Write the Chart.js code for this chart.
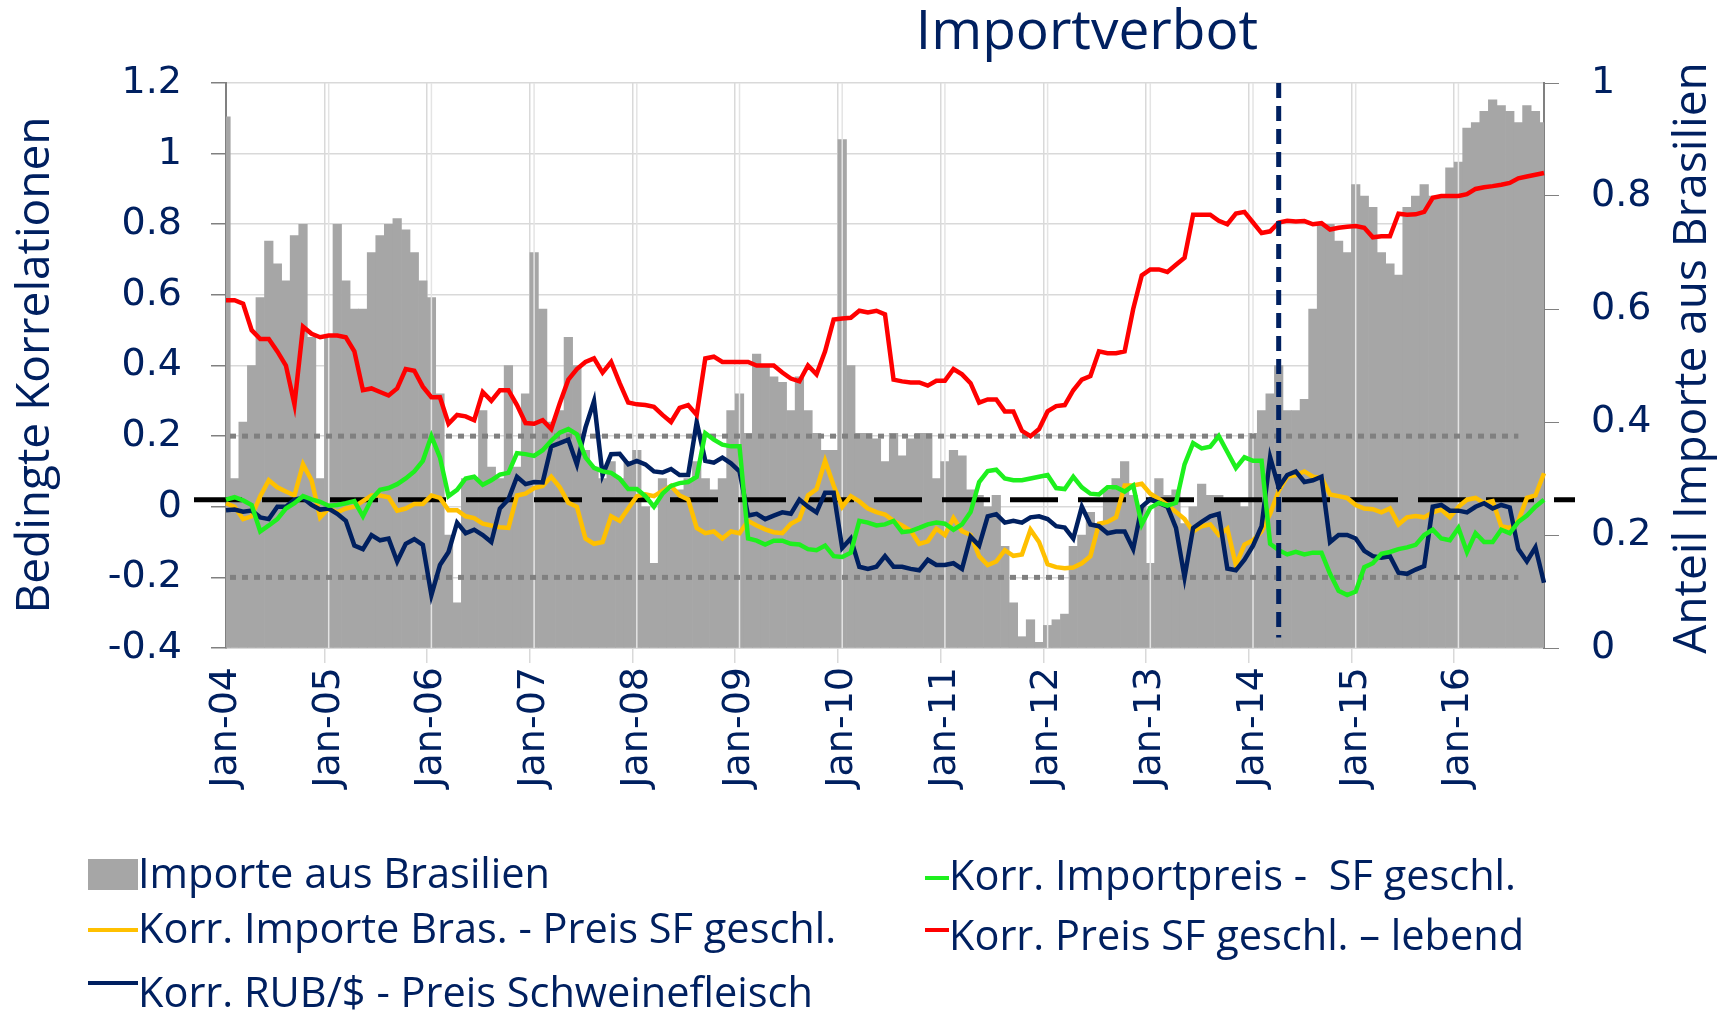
<!DOCTYPE html>
<html>
<head>
<meta charset="utf-8">
<title>Importverbot</title>
<script src="https://cdn.jsdelivr.net/npm/chart.js@4.4.1/dist/chart.umd.min.js"></script>
<style>
    html, body { margin: 0; padding: 0; background: #fff; }
    #wrap { width: 1727px; height: 1017px; }
</style>
</head>
<body>
<div id="wrap"><canvas id="myChart" width="1727" height="1017"></canvas></div>
<script>
/* monthly categories Jan-04 .. Nov-16 */
const monthNames = ['Jan', 'Feb', 'Mar', 'Apr', 'May', 'Jun', 'Jul', 'Aug', 'Sep', 'Oct', 'Nov', 'Dec'];
const months = [];
for (let yr = 2004; yr <= 2016; yr++) {
    for (let m = 0; m < 12; m++) {
        if (yr === 2016 && m > 10) break;
        months.push(monthNames[m] + '-' + String(yr).slice(2));
    }
}

// Anteil Importe aus Brasilien (rechte Achse)
const importeBrasilien = [
    0.94, 0.3, 0.4, 0.5, 0.62, 0.72, 0.68, 0.65, 0.73, 0.75, 0.55, 0.3,
    0.55, 0.75, 0.65, 0.6, 0.6, 0.7, 0.73, 0.75, 0.76, 0.74, 0.7, 0.65,
    0.62, 0.45, 0.2, 0.08, 0.3, 0.3, 0.42, 0.32, 0.3, 0.5, 0.32, 0.45,
    0.7, 0.6, 0.4, 0.42, 0.55, 0.5, 0.35, 0.32, 0.3, 0.33, 0.3, 0.33,
    0.35, 0.25, 0.15, 0.3, 0.28, 0.28, 0.3, 0.33, 0.3, 0.28, 0.3, 0.42,
    0.45, 0.38, 0.52, 0.5, 0.48, 0.47, 0.42, 0.48, 0.42, 0.38, 0.35, 0.35,
    0.9, 0.5, 0.38, 0.38, 0.37, 0.33, 0.38, 0.34, 0.37, 0.38, 0.38, 0.3,
    0.33, 0.35, 0.34, 0.28, 0.27, 0.25, 0.27, 0.18, 0.08, 0.02, 0.05, 0.01,
    0.04, 0.05, 0.06, 0.18, 0.2, 0.24, 0.22, 0.28, 0.3, 0.33, 0.27, 0.25,
    0.15, 0.3, 0.27, 0.28, 0.22, 0.25, 0.29, 0.27, 0.27, 0.26, 0.26, 0.25,
    0.38, 0.42, 0.45, 0.5, 0.42, 0.42, 0.44, 0.6, 0.75, 0.75, 0.72, 0.7,
    0.82, 0.8, 0.78, 0.7, 0.68, 0.66, 0.78, 0.8, 0.82, 0.8, 0.8, 0.85,
    0.86, 0.92, 0.93, 0.95, 0.97, 0.96, 0.95, 0.93, 0.96, 0.95, 0.93
];

// Korr. Importe Bras. - Preis SF geschl.
const korrImporteBras = [
    0.01, 0.0, -0.035, -0.027, 0.03, 0.075, 0.055, 0.043, 0.032, 0.12, 0.075, -0.03,
    -0.005, -0.016, -0.005, 0.0, 0.016, 0.032, 0.032, 0.027, -0.011, -0.005, 0.008, 0.008,
    0.032, 0.025, -0.01, -0.01, -0.027, -0.032, -0.048, -0.053, -0.058, -0.06, 0.032, 0.037,
    0.053, 0.059, 0.085, 0.055, 0.011, 0.0, -0.09, -0.105, -0.1, -0.027, -0.04, -0.005,
    0.03, 0.035, 0.03, 0.045, 0.059, 0.032, 0.021, -0.06, -0.075, -0.07, -0.09, -0.07,
    -0.075, -0.04, -0.053, -0.064, -0.072, -0.075, -0.048, -0.035, 0.032, 0.05, 0.13, 0.06,
    0.0, 0.03, 0.015, -0.005, -0.015, -0.022, -0.04, -0.053, -0.068, -0.105, -0.098, -0.062,
    -0.08, -0.032, -0.069, -0.08, -0.14, -0.165, -0.155, -0.123, -0.139, -0.135, -0.065, -0.1,
    -0.163, -0.171, -0.174, -0.172, -0.16, -0.14, -0.048, -0.043, -0.03, 0.06, 0.06, 0.065,
    0.037, 0.022, 0.005, -0.015, -0.035, -0.07, -0.055, -0.05, -0.08, -0.062, -0.165, -0.107,
    -0.095, -0.07, -0.02, 0.045, 0.085, 0.09, 0.1, 0.085, 0.082, 0.035, 0.03, 0.025,
    0.005, -0.005, -0.007, -0.016, -0.005, -0.05, -0.03, -0.026, -0.03, -0.016, -0.008, -0.03,
    0.0, 0.02, 0.025, 0.011, 0.016, -0.055, -0.06, -0.04, 0.025, 0.032, 0.095
];

// Korr. RUB/$ - Preis Schweinefleisch
const korrRubPreis = [
    -0.01, -0.008, -0.014, -0.011, -0.03, -0.035, 0.0, 0.0, 0.02, 0.025, 0.005, -0.008,
    -0.005, -0.02, -0.04, -0.11, -0.12, -0.08, -0.095, -0.09, -0.155, -0.105, -0.092, -0.108,
    -0.25, -0.165, -0.128, -0.045, -0.075, -0.065, -0.08, -0.1, -0.005, 0.021, 0.085, 0.064,
    0.07, 0.069, 0.171, 0.18, 0.19, 0.12, 0.224, 0.299, 0.09, 0.149, 0.15, 0.12,
    0.13, 0.12, 0.1, 0.097, 0.107, 0.09, 0.09, 0.24, 0.13, 0.125, 0.139, 0.123,
    0.1, -0.025, -0.02, -0.035, -0.025, -0.016, -0.02, 0.02, 0.0, -0.016, 0.04, 0.04,
    -0.117, -0.09, -0.17, -0.176, -0.17, -0.14, -0.17, -0.17, -0.176, -0.18, -0.15, -0.165,
    -0.165, -0.16, -0.176, -0.085, -0.11, -0.027, -0.021, -0.045, -0.04, -0.045, -0.03, -0.027,
    -0.035, -0.055, -0.059, -0.09, 0.0, -0.05, -0.055, -0.075, -0.07, -0.07, -0.12, 0.0,
    0.021, 0.011, 0.0, -0.06, -0.2, -0.06, -0.043, -0.027, -0.02, -0.175, -0.18, -0.15,
    -0.11, -0.055, 0.14, 0.055, 0.09, 0.10, 0.07, 0.075, 0.085, -0.1, -0.08, -0.08,
    -0.09, -0.125, -0.14, -0.144, -0.14, -0.187, -0.19, -0.178, -0.168, 0.0, 0.005, -0.011,
    -0.011, -0.016, 0.0, 0.01, -0.005, 0.005, -0.002, -0.12, -0.155, -0.115, -0.215
];

// Korr. Importpreis - SF geschl.
const korrImportpreis = [
    0.02, 0.027, 0.018, 0.005, -0.07, -0.053, -0.035, -0.005, 0.01, 0.03, 0.021, 0.014,
    0.003, 0.005, 0.01, 0.016, -0.027, 0.021, 0.048, 0.053, 0.064, 0.08, 0.1, 0.13,
    0.2, 0.14, 0.03, 0.048, 0.08, 0.085, 0.062, 0.075, 0.091, 0.096, 0.152, 0.149,
    0.144, 0.16, 0.187, 0.21, 0.22, 0.205, 0.14, 0.11, 0.1, 0.096, 0.08, 0.05,
    0.05, 0.03, 0.0, 0.037, 0.059, 0.067, 0.07, 0.085, 0.208, 0.19, 0.176, 0.171,
    0.171, -0.09, -0.096, -0.107, -0.096, -0.096, -0.105, -0.107, -0.12, -0.123, -0.11, -0.14,
    -0.142, -0.13, -0.04, -0.045, -0.053, -0.05, -0.04, -0.072, -0.069, -0.06, -0.05, -0.045,
    -0.048, -0.065, -0.05, -0.015, 0.07, 0.101, 0.105, 0.08, 0.075, 0.075, 0.08, 0.085,
    0.09, 0.053, 0.05, 0.085, 0.055, 0.037, 0.035, 0.055, 0.055, 0.043, 0.06, -0.05,
    -0.003, 0.011, 0.003, 0.011, 0.12, 0.18, 0.165, 0.17, 0.2, 0.155, 0.11, 0.14,
    0.13, 0.13, -0.105, -0.123, -0.135, -0.128, -0.135, -0.13, -0.13, -0.19, -0.238, -0.25,
    -0.24, -0.171, -0.16, -0.133, -0.128, -0.12, -0.115, -0.108, -0.08, -0.065, -0.09, -0.095,
    -0.06, -0.128, -0.075, -0.1, -0.1, -0.065, -0.075, -0.043, -0.025, 0.0, 0.02
];

// Korr. Preis SF geschl. – lebend
const korrPreisLebend = [
    0.585, 0.585, 0.575, 0.50, 0.475, 0.475, 0.44, 0.40, 0.29, 0.51, 0.49, 0.48,
    0.485, 0.485, 0.48, 0.44, 0.33, 0.335, 0.325, 0.315, 0.335, 0.39, 0.385, 0.34,
    0.31, 0.31, 0.235, 0.26, 0.256, 0.245, 0.325, 0.30, 0.33, 0.33, 0.288, 0.237,
    0.235, 0.245, 0.22, 0.293, 0.36, 0.39, 0.41, 0.42, 0.38, 0.41, 0.35, 0.295,
    0.29, 0.288, 0.283, 0.26, 0.24, 0.28, 0.288, 0.26, 0.42, 0.425, 0.41, 0.41,
    0.41, 0.41, 0.40, 0.40, 0.40, 0.38, 0.363, 0.355, 0.40, 0.375, 0.44, 0.53,
    0.533, 0.535, 0.555, 0.55, 0.555, 0.545, 0.36, 0.355, 0.352, 0.352, 0.343, 0.357,
    0.357, 0.39, 0.375, 0.35, 0.295, 0.304, 0.304, 0.27, 0.27, 0.215, 0.2, 0.22,
    0.27, 0.285, 0.288, 0.33, 0.36, 0.37, 0.44, 0.435, 0.435, 0.44, 0.56, 0.655,
    0.672, 0.672, 0.665, 0.685, 0.705, 0.827, 0.827, 0.827, 0.81, 0.80, 0.83, 0.835,
    0.805, 0.775, 0.78, 0.805, 0.81, 0.808, 0.809, 0.80, 0.803, 0.785, 0.79, 0.793,
    0.795, 0.79, 0.763, 0.766, 0.766, 0.83, 0.827, 0.828, 0.835, 0.875, 0.88, 0.88,
    0.88, 0.885, 0.9, 0.905, 0.908, 0.912, 0.917, 0.93, 0.935, 0.94, 0.945
];

// Hilfslinien
const nullLinie = 0.02;
const bandGrenzen = [0.2, -0.2];
const bandEnde = 'Aug-16';
const verbotMonat = 'Apr-14';
const verbotUnten = -0.37;

const navy = '#002060';
const tickFont = { family: 'DejaVu Sans', size: 38 };
const fmtTick = v => String(+Number(v).toFixed(1));

const extras = {
    id: 'extras',
    afterDatasetDraw(chart, args) {
        if (args.index !== 0) return;
        const { ctx, chartArea: a, scales: { x, y } } = chart;
        ctx.save();
        // Januar-Linien über den Balken
        ctx.strokeStyle = '#E4E4E4';
        ctx.lineWidth = 1.5;
        months.forEach((lab, i) => {
            if (i % 12 !== 0 || i === 0) return;
            const px = x.getPixelForValue(i);
            ctx.beginPath();
            ctx.moveTo(px, a.top);
            ctx.lineTo(px, a.bottom);
            ctx.stroke();
        });
        // gepunktete Bänder
        ctx.strokeStyle = '#808080';
        ctx.lineWidth = 5;
        ctx.setLineDash([6, 6]);
        const xEnd = x.getPixelForValue(months.indexOf(bandEnde));
        bandGrenzen.forEach(v => {
            const py = y.getPixelForValue(v);
            ctx.beginPath();
            ctx.moveTo(a.left + 4, py);
            ctx.lineTo(xEnd, py);
            ctx.stroke();
        });
        // schwarze gestrichelte Linie
        ctx.strokeStyle = '#000000';
        ctx.lineWidth = 5;
        ctx.setLineDash([48, 20]);
        const py0 = y.getPixelForValue(nullLinie);
        ctx.beginPath();
        ctx.moveTo(a.left - 32, py0);
        ctx.lineTo(a.right + 31, py0);
        ctx.stroke();
        ctx.restore();
    },
    afterDatasetsDraw(chart) {
        const { ctx, chartArea: a, scales: { x, y } } = chart;
        const px = x.getPixelForValue(months.indexOf(verbotMonat));
        ctx.save();
        ctx.strokeStyle = navy;
        ctx.lineWidth = 5;
        ctx.setLineDash([15, 8]);
        ctx.beginPath();
        ctx.moveTo(px, a.top);
        ctx.lineTo(px, y.getPixelForValue(verbotUnten));
        ctx.stroke();
        ctx.restore();
    },
    afterDraw(chart) {
        const ctx = chart.ctx;
        ctx.save();
        ctx.fillStyle = navy;

        // Titel
        ctx.font = '55px "Open Sans"';
        ctx.textAlign = 'center';
        ctx.textBaseline = 'middle';
        ctx.fillText('Importverbot', 1087, 33);

        // Achsentitel
        ctx.font = '46px "Open Sans"';
        [['Bedingte Korrelationen', 36, 365], ['Anteil Importe aus Brasilien', 1693, 358]].forEach(t => {
            ctx.save();
            ctx.translate(t[1], t[2]);
            ctx.rotate(-Math.PI / 2);
            ctx.fillText(t[0], 0, 0);
            ctx.restore();
        });

        // Legende
        ctx.font = '41.5px "Open Sans"';
        ctx.textAlign = 'left';
        ctx.textBaseline = 'alphabetic';
        ctx.fillStyle = '#A6A6A6';
        ctx.fillRect(88, 859, 50, 31);
        const items = [
            { text: 'Korr. Importe Bras. - Preis SF geschl.', color: '#FFC000', mx: 88, mw: 50, my: 930, tx: 138, ty: 943 },
            { text: 'Korr. RUB/$ - Preis Schweinefleisch', color: navy, mx: 88, mw: 50, my: 983, tx: 138, ty: 1007 },
            { text: 'Korr. Importpreis -  SF geschl.', color: '#1EF01E', mx: 925, mw: 24, my: 878, tx: 949, ty: 890 },
            { text: 'Korr. Preis SF geschl. – lebend', color: '#FF0000', mx: 925, mw: 24, my: 930, tx: 949, ty: 950 }
        ];
        ctx.fillStyle = navy;
        ctx.fillText('Importe aus Brasilien', 138, 888);
        items.forEach(it => {
            ctx.fillStyle = it.color;
            ctx.fillRect(it.mx, it.my - 2, it.mw, 4);
            ctx.fillStyle = navy;
            ctx.fillText(it.text, it.tx, it.ty);
        });
        ctx.restore();
    }
};

function lineSet(label, data, color, order) {
    return {
        type: 'line',
        label: label,
        data: data,
        yAxisID: 'y',
        borderColor: color,
        backgroundColor: color,
        borderWidth: 4.5,
        pointRadius: 0,
        tension: 0,
        order: order
    };
}

function draw() {
    const ctx = document.getElementById('myChart');

    new Chart(ctx, {
        data: {
            labels: months,
            datasets: [
                {
                    type: 'bar',
                    label: 'Importe aus Brasilien',
                    data: importeBrasilien,
                    yAxisID: 'y1',
                    backgroundColor: '#A6A6A6',
                    borderWidth: 0,
                    barPercentage: 1,
                    categoryPercentage: 1,
                    order: 10
                },
                lineSet('Korr. Importe Bras. - Preis SF geschl.', korrImporteBras, '#FFC000', 4),
                lineSet('Korr. RUB/$ - Preis Schweinefleisch', korrRubPreis, navy, 3),
                lineSet('Korr. Importpreis -  SF geschl.', korrImportpreis, '#1EF01E', 2),
                lineSet('Korr. Preis SF geschl. – lebend', korrPreisLebend, '#FF0000', 1)
            ]
        },
        options: {
            responsive: false,
            animation: false,
            devicePixelRatio: 1,
            locale: 'en-US',
            events: [],
            layout: { padding: { top: 83, left: 0, right: 0, bottom: 0 } },
            plugins: {
                legend: { display: false },
                title: { display: false },
                tooltip: { enabled: false }
            },
            scales: {
                x: {
                    type: 'category',
                    offset: false,
                    grid: {
                        color: c => (c.index % 12 === 0 ? '#D9D9D9' : 'rgba(0,0,0,0)'),
                        tickColor: c => (c.index % 12 === 0 ? '#D9D9D9' : 'rgba(0,0,0,0)'),
                        tickLength: 15,
                        lineWidth: 1.5
                    },
                    border: { color: '#D9D9D9', width: 2 },
                    ticks: {
                        autoSkip: false,
                        minRotation: 90,
                        maxRotation: 90,
                        padding: 4,
                        color: navy,
                        font: tickFont,
                        callback: function (val, i) {
                            return i % 12 === 0 ? months[i] : '';
                        }
                    },
                    afterFit: s => { s.height = 369; }
                },
                y: {
                    position: 'left',
                    min: -0.4,
                    max: 1.2,
                    grid: { color: '#D9D9D9', lineWidth: 1.5, tickColor: '#808080', tickLength: 15 },
                    border: { color: '#808080', width: 2 },
                    ticks: { stepSize: 0.2, padding: 29, color: navy, font: tickFont, callback: fmtTick },
                    afterFit: s => { s.width = 226; }
                },
                y1: {
                    position: 'right',
                    min: 0,
                    max: 1,
                    grid: { drawOnChartArea: false, tickColor: '#808080', tickLength: 15 },
                    border: { color: '#808080', width: 2 },
                    ticks: { stepSize: 0.2, padding: 32, color: navy, font: tickFont, callback: fmtTick },
                    afterFit: s => { s.width = 183; }
                }
            }
        },
        plugins: [extras]
    });
}

Promise.all([
    document.fonts.load('40px "Open Sans"'),
    document.fonts.load('38px "DejaVu Sans"')
]).then(draw, draw);
</script>
</body>
</html>
